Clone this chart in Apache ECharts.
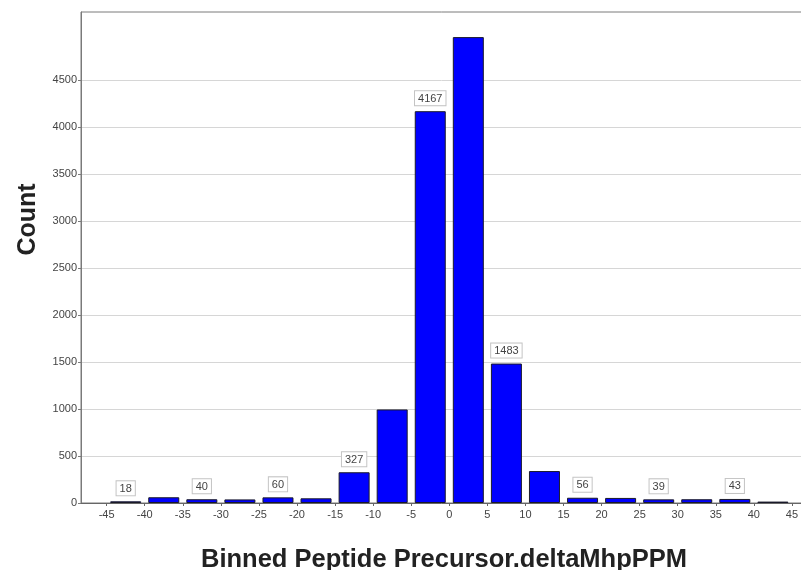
<!DOCTYPE html>
<html>
<head>
<meta charset="utf-8">
<script src="https://cdn.jsdelivr.net/npm/echarts@6/dist/echarts.min.js"></script>
<style>
  html, body { margin: 0; padding: 0; background: #fff; }
  #chart { width: 801px; height: 570px; }
</style>
</head>
<body>
<div id="chart"></div>
<script>
// Histogram bins: lower edge of each 5 ppm bin and its count
const binWidth = 5;
const binStarts = [-45, -40, -35, -30, -25, -20, -15, -10, -5, 0, 5, 10, 15, 20, 25, 30, 35, 40];
const counts = [18, 61, 40, 38, 60, 50, 327, 995, 4167, 4955, 1483, 340, 56, 54, 39, 40, 43, 15];
// bins whose count is printed above the bar
const labeledBins = [-45, -35, -25, -15, -5, 5, 15, 25, 35];

const xTicks = [-45, -40, -35, -30, -25, -20, -15, -10, -5, 0, 5, 10, 15, 20, 25, 30, 35, 40, 45];
const yTicks = [0, 500, 1000, 1500, 2000, 2500, 3000, 3500, 4000, 4500];

const tickFont = "'Liberation Sans', Arial, sans-serif";
const titleFont = "'Liberation Sans', Arial, sans-serif";

const barData = binStarts.map((s, i) => ({
  value: [s + binWidth / 2, counts[i]],
  label: { show: labeledBins.includes(s) }
}));

const chart = echarts.init(document.getElementById('chart'), null, { renderer: 'canvas' });
chart.setOption({
  animation: false,
  backgroundColor: '#ffffff',
  grid: {
    // the plot runs on past the right edge, so its right border is out of view
    left: 81, top: 12, right: -6, bottom: 67,
    outerBoundsMode: 'none',
    containLabel: false,
    show: true, borderColor: '#7a7a7a', borderWidth: 1, backgroundColor: 'transparent'
  },
  xAxis: {
    type: 'value',
    min: -48.37, max: 46.98,
    name: 'Binned Peptide Precursor.deltaMhpPPM',
    nameLocation: 'middle',
    nameGap: 44,
    nameTextStyle: { fontFamily: titleFont, fontWeight: 'bold', fontSize: 25.5, color: '#222' },
    axisLine: { show: true, onZero: false, lineStyle: { color: '#666', width: 1 } },
    axisTick: { show: true, length: 3, customValues: xTicks, lineStyle: { color: '#666' } },
    axisLabel: { customValues: xTicks, margin: 6, fontFamily: tickFont, fontSize: 11, color: '#444' },
    splitLine: { show: false }
  },
  yAxis: {
    type: 'value',
    min: 0, max: 5222,
    name: 'Count',
    nameLocation: 'middle',
    nameGap: 40,
    nameRotate: 90,
    nameTextStyle: { fontFamily: titleFont, fontWeight: 'bold', fontSize: 25, color: '#222', padding: [0, 0, 0, 76] },
    axisLine: { show: true, onZero: false, lineStyle: { color: '#7a7a7a', width: 1 } },
    axisTick: { show: true, length: 3, customValues: yTicks, lineStyle: { color: '#7a7a7a' } },
    axisLabel: {
      customValues: yTicks, margin: 4, fontFamily: tickFont, fontSize: 11, color: '#444',
      formatter: v => String(v)
    },
    splitLine: { show: true, lineStyle: { color: '#d6d6d6', width: 1 } }
  },
  series: [{
    type: 'bar',
    data: barData,
    barWidth: 31,
    itemStyle: { color: '#0000ff', borderColor: '#1a1a2a', borderWidth: 1 },
    label: {
      position: 'top',
      distance: 6,
      fontFamily: tickFont,
      fontSize: 11,
      color: '#444',
      backgroundColor: '#ffffff',
      borderColor: '#c4c4c4',
      borderWidth: 1,
      padding: [2, 3, 1, 3],
      formatter: p => String(p.value[1])
    }
  }]
});
</script>
</body>
</html>
